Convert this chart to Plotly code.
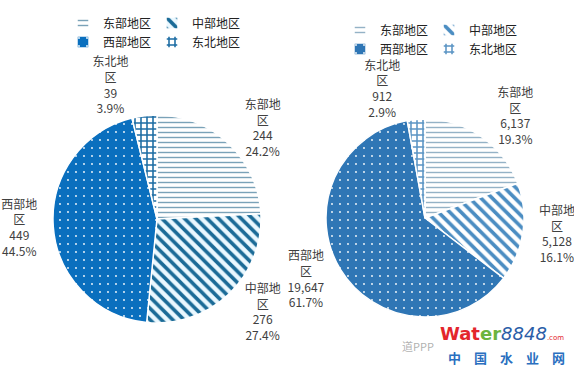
import plotly.graph_objects as go

# ---- data ----
regions = ["东部地区", "中部地区", "西部地区", "东北地区"]
region_wrapped = ["东部地<br>区", "中部地<br>区", "西部地<br>区", "东北地<br>区"]
left_values = [244, 276, 449, 39]
right_values = [6137, 5128, 19647, 912]

# right-hand legend needs its own entries (pie legends merge identical labels)
right_labels = [r + "\u200b" for r in regions]

W, H = 574, 369
ML, MR, MT, MB = 53, 34, 0, 10
PW = W - ML - MR
PH = H - MT - MB

def fx(px):
    return (px - ML) / PW

def fy(py):
    return 1 - (py - MT) / PH

font_main = "Noto Sans CJK SC, Microsoft YaHei, sans-serif"

left_pattern = dict(
    shape=["-", "\\", ".", "+"],
    fgcolor=["#7aa2b8", "#1b6b97", "#ffffff", "#1b6ca3"],
    bgcolor=["#ffffff", "#eaf8ff", "#0a6fbe", "#ffffff"],
    size=[5, 8, 8, 6],
    solidity=[0.28, 0.45, 0.04, 0.45],
    fillmode="replace",
)
right_pattern = dict(
    shape=["-", "\\", ".", "+"],
    fgcolor=["#94b2c6", "#4b8dc2", "#ffffff", "#5a94c4"],
    bgcolor=["#ffffff", "#ffffff", "#2f76b5", "#ffffff"],
    size=[5, 8, 8, 6],
    solidity=[0.28, 0.45, 0.04, 0.45],
    fillmode="replace",
)

common = dict(
    sort=False,
    direction="clockwise",
    rotation=0,
    textposition="outside",
    texttemplate="%{text}<br>%{value:,}<br>%{percent:.1%}",
    textfont=dict(family=font_main, size=12, color="#404040"),
    hoverinfo="label+value+percent",
)

fig = go.Figure()
fig.add_trace(go.Pie(
    labels=regions, values=left_values, text=region_wrapped,
    marker=dict(pattern=left_pattern, line=dict(color="#ffffff", width=1.5)),
    domain=dict(x=[fx(53), fx(261)], y=[fy(323), fy(115)]),
    legend="legend",
    **common,
))
fig.add_trace(go.Pie(
    labels=right_labels, values=right_values, text=region_wrapped,
    marker=dict(pattern=right_pattern, line=dict(color="#ffffff", width=1.5)),
    domain=dict(x=[fx(326), fx(524)], y=[fy(317), fy(119)]),
    legend="legend2",
    **common,
))

B, E = 30, 44   # legend padding (transparent border) and entry width
P = E + 45      # resulting item pitch

legend_common = dict(
    orientation="h",
    entrywidthmode="pixels",
    entrywidth=E,
    borderwidth=B,
    maxheight=1,
    bordercolor="rgba(0,0,0,0)",
    bgcolor="rgba(0,0,0,0)",
    font=dict(family=font_main, size=12, color="#222222"),
    traceorder="normal",
    yanchor="bottom",
)

left_text_x, right_text_x = 103, 380
fig.update_layout(
    width=W, height=H,
    margin=dict(l=ML, r=MR, t=MT, b=MB, autoexpand=False),
    paper_bgcolor="#ffffff",
    plot_bgcolor="#ffffff",
    legend=dict(x=fx(left_text_x - 40 - B), xanchor="left",
                y=fy(23 + B + 33.5), **legend_common),
    legend2=dict(x=fx(right_text_x - 40 - B + 2 * B + 2 * P), xanchor="right",
                 y=fy(30 + B + 33.5), **legend_common),
    annotations=[
        dict(
            x=fx(502), y=fy(333), xref="paper", yref="paper", showarrow=False,
            xanchor="center", yanchor="middle",
            text="<b><span style='color:#e3262c'>Wat</span><span style='color:#6cb43f'>er</span></b>"
                 "<i><span style='color:#2a5ea8'>8848</span></i>"
                 "<span style='color:#e3262c;font-size:7px'>.com</span>",
            font=dict(family="DejaVu Sans, sans-serif", size=18),
        ),
        dict(
            x=fx(506), y=fy(357), xref="paper", yref="paper", showarrow=False,
            xanchor="center", yanchor="middle",
            text="<b>中　国　水　业　网</b>",
            font=dict(family=font_main, size=13, color="#2a6fc0"),
        ),
        dict(
            x=fx(418), y=fy(346), xref="paper", yref="paper", showarrow=False,
            xanchor="center", yanchor="middle",
            text="道PPP",
            font=dict(family=font_main, size=11, color="rgba(120,120,120,0.6)"),
        ),
    ],
)

fig.write_html("out.html", config={"displayModeBar": False},
               post_script="document.body.style.margin='0';")
